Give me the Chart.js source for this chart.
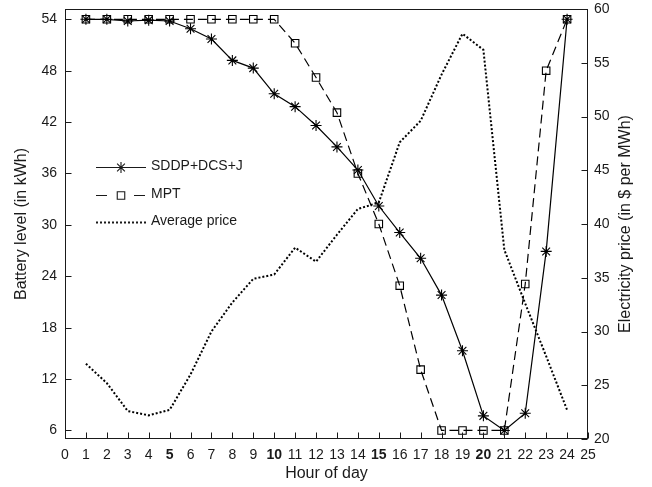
<!DOCTYPE html>
<html><head><meta charset="utf-8">
<script src="https://cdn.jsdelivr.net/npm/chart.js@4.4.0/dist/chart.umd.min.js"></script>
<style>html,body{margin:0;padding:0;background:#fff;}canvas{display:block;}</style>
</head><body>
<canvas id="c" width="652" height="487"></canvas>
<script>
// ---- data ----
const hours = [1,2,3,4,5,6,7,8,9,10,11,12,13,14,15,16,17,18,19,20,21,22,23,24];
const sddpDcsJ = [54,54,53.8,53.9,53.8,52.9,51.7,49.2,48.3,45.3,43.8,41.6,39.1,36.4,32.2,29.1,26.1,21.8,15.3,7.7,6.0,8.0,26.9,54];
const mpt = [54,54,54,54,54,54,54,54,54,54,51.2,47.2,43.1,36.0,30.1,22.9,13.1,6,6,6,6,23.1,48.0,54];
const avgPrice = [27.0,25.2,22.6,22.2,22.7,26.0,30.0,32.7,34.9,35.3,37.8,36.5,39.0,41.4,42.0,47.6,49.6,53.9,57.7,56.2,37.6,32.6,27.7,22.7];
const hourTicks = [0,1,2,3,4,5,6,7,8,9,10,11,12,13,14,15,16,17,18,19,20,21,22,23,24,25];
const boldHours = [5,10,15,20];
const batteryTicks = [6,12,18,24,30,36,42,48,54];
const priceTicks = [20,25,30,35,40,45,50,55,60];
const seriesLabels = ['SDDP+DCS+J','MPT','Average price'];
const xTitle = 'Hour of day';
const yTitle = 'Battery level (in kWh)';
const y2Title = 'Electricity price (in $ per MWh)';

const FONT = '"Liberation Sans", Arial, Helvetica, sans-serif';
const INK = '#1a1a1a';
const toPts = (vals) => hours.map((h, i) => ({x: h, y: vals[i]}));

const styles = [
  {dash: [], width: 1.2, point: 'star', radius: 5.5},
  {dash: [9, 5], width: 1.2, point: 'rect', radius: 5.3},
  {dash: [2, 2], width: 2, point: false, radius: 0}
];

function drawMarker(ctx, type, x, y, r) {
  ctx.beginPath();
  if (type === 'star') {
    for (let k = 0; k < 4; k++) {
      const a = k * Math.PI / 4;
      ctx.moveTo(x - r * Math.cos(a), y - r * Math.sin(a));
      ctx.lineTo(x + r * Math.cos(a), y + r * Math.sin(a));
    }
  } else if (type === 'rect') {
    const s = Math.SQRT1_2 * r;
    ctx.rect(x - s, y - s, 2 * s, 2 * s);
  }
  ctx.stroke();
}

const framePlugin = {
  id: 'frame',
  afterDraw(chart) {
    const {ctx, chartArea: a, scales} = chart;
    ctx.save();
    ctx.strokeStyle = INK;
    ctx.lineWidth = 1;
    ctx.setLineDash([]);
    const L = Math.round(a.left) + 0.5, R = Math.round(a.right) - 0.5;
    const T = Math.round(a.top) + 0.5, B = Math.round(a.bottom) - 0.5;
    ctx.strokeRect(L, T, R - L, B - T);
    const tl = 6;
    ctx.beginPath();
    scales.x.ticks.forEach(t => {
      const px = Math.round(scales.x.getPixelForValue(t.value)) + 0.5;
      ctx.moveTo(px, B); ctx.lineTo(px, B - tl);
    });
    scales.y.ticks.forEach(t => {
      const py = Math.round(scales.y.getPixelForValue(t.value)) + 0.5;
      ctx.moveTo(L, py); ctx.lineTo(L + tl, py);
    });
    scales.y2.ticks.forEach(t => {
      const py = Math.round(scales.y2.getPixelForValue(t.value)) + 0.5;
      ctx.moveTo(R, py); ctx.lineTo(R - tl, py);
    });
    ctx.stroke();

    // right axis title (reads bottom-to-top)
    ctx.fillStyle = INK;
    ctx.font = '16px ' + FONT;
    ctx.save();
    ctx.translate(626, (a.top + a.bottom) / 2);
    ctx.rotate(-Math.PI / 2);
    ctx.textAlign = 'center';
    ctx.textBaseline = 'middle';
    ctx.fillText(y2Title, 0, 0);
    ctx.restore();

    // legend inside plot
    const rows = [166.5, 194.5, 221.5];
    const x0 = 96, x1 = 146, xm = 121, tx = 151;
    ctx.font = '14px ' + FONT;
    ctx.textAlign = 'left';
    ctx.textBaseline = 'middle';
    seriesLabels.forEach((lab, i) => {
      const st = styles[i];
      const y = Math.round(rows[i]) + 0.5;
      ctx.lineWidth = st.width;
      if (i === 1) ctx.setLineDash([11, 27]); else ctx.setLineDash(st.dash);
      ctx.beginPath(); ctx.moveTo(x0, y); ctx.lineTo(x1, y); ctx.stroke();
      ctx.setLineDash([]);
      if (st.point) {
        ctx.lineWidth = 1.1;
        drawMarker(ctx, st.point, xm, y, st.radius);
      }
      ctx.fillStyle = INK;
      ctx.fillText(lab, tx, rows[i]);
    });
    ctx.restore();
  }
};

const datasets = [sddpDcsJ, mpt, avgPrice].map((vals, i) => ({
  label: seriesLabels[i],
  data: toPts(vals),
  yAxisID: i === 2 ? 'y2' : 'y',
  borderColor: '#000',
  borderWidth: styles[i].width,
  borderDash: styles[i].dash,
  pointStyle: styles[i].point || 'circle',
  pointRadius: styles[i].radius,
  pointBorderWidth: 1.1,
  pointBorderColor: '#000',
  pointBackgroundColor: 'rgba(0,0,0,0)',
  tension: 0,
  fill: false
}));

const noGrid = {display: false, drawTicks: false, tickLength: 0};
const fitY = (w) => (s) => { s.width = w; s.paddingTop = 0; s.paddingBottom = 0; };

new Chart(document.getElementById('c'), {
  type: 'line',
  data: {datasets},
  options: {
    responsive: false,
    animation: false,
    layout: {padding: {top: 9, left: 0, right: 0, bottom: 0}},
    plugins: {legend: {display: false}, tooltip: {enabled: false}},
    scales: {
      x: {
        type: 'linear', position: 'bottom', min: 0, max: 25,
        grid: noGrid, border: {display: false},
        afterBuildTicks: s => { s.ticks = hourTicks.map(v => ({value: v})); },
        afterFit: s => { s.height = 48; s.paddingLeft = 0; s.paddingRight = 0; },
        ticks: {
          autoSkip: false, maxRotation: 0, padding: 8, color: INK,
          font: c => ({family: FONT, size: 14, weight: boldHours.includes(c.tick && c.tick.value) ? 'bold' : 'normal'})
        },
        title: {display: true, text: xTitle, color: INK, font: {family: FONT, size: 16}, padding: {top: 0, bottom: 4}}
      },
      y: {
        type: 'linear', position: 'left', min: 5, max: 55.2,
        grid: noGrid, border: {display: false},
        afterBuildTicks: s => { s.ticks = batteryTicks.map(v => ({value: v})); },
        afterFit: fitY(65),
        ticks: {padding: 8, color: INK, font: {family: FONT, size: 14}},
        title: {display: true, text: yTitle, color: INK, font: {family: FONT, size: 16}, padding: {top: 12, bottom: 0}}
      },
      y2: {
        type: 'linear', position: 'right', min: 20, max: 60,
        grid: noGrid, border: {display: false},
        afterBuildTicks: s => { s.ticks = priceTicks.map(v => ({value: v})); },
        afterFit: fitY(64),
        ticks: {padding: 6, color: INK, font: {family: FONT, size: 14}},
        title: {display: false}
      }
    }
  },
  plugins: [framePlugin]
});
</script>
</body></html>
